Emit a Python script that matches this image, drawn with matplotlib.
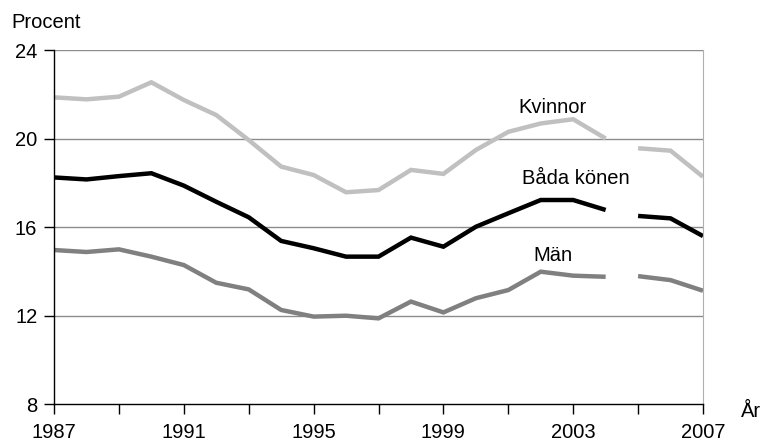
import numpy as np
import matplotlib
matplotlib.use("Agg")
import matplotlib.pyplot as plt

plt.rcParams['font.family'] = ['Liberation Sans', 'DejaVu Sans']

# andel i procent, 1987-2007 (ingen linje mellan 2004 och 2005)
years = list(range(1987, 2008))
kvinnor = [21.86, 21.77, 21.89, 22.54, 21.74, 21.06, 19.93, 18.73, 18.35, 17.57, 17.67,
           18.58, 18.40, 19.48, 20.30, 20.68, 20.87, 20.00, 19.56, 19.45, 18.27]
bada = [18.24, 18.15, 18.30, 18.43, 17.87, 17.14, 16.44, 15.37, 15.04, 14.66, 14.66,
        15.52, 15.11, 16.01, 16.62, 17.22, 17.22, 16.77, 16.50, 16.39, 15.59]
man = [14.96, 14.87, 14.99, 14.66, 14.28, 13.48, 13.18, 12.25, 11.95, 11.99, 11.87,
       12.63, 12.14, 12.78, 13.15, 13.98, 13.80, 13.75, 13.78, 13.60, 13.12]
split = years.index(2005)

yticks = [8, 12, 16, 20, 24]
xlabels = [1987, 1991, 1995, 1999, 2003, 2007]

fs = 14.5

fig = plt.figure(figsize=(7.64, 4.44), dpi=100)
ax = fig.add_axes([54/764, 1-404/444, (703-54)/764, (404-50)/444])

series = [(kvinnor, '#c0c0c0'), (bada, '#000000'), (man, '#808080')]
for vals, col in series:
    ax.plot(years[:split], vals[:split], color=col, lw=3.2, solid_capstyle='butt', solid_joinstyle='miter')
    ax.plot(years[split:], vals[split:], color=col, lw=3.2, solid_capstyle='butt', solid_joinstyle='miter')

ax.set_xlim(1987, 2007)
ax.set_ylim(8, 24)
ax.set_yticks(yticks)
ax.set_xticks(range(1987, 2008, 2))
ax.set_xticklabels([str(y) if y in xlabels else '' for y in range(1987, 2008, 2)])
for y in yticks[1:]:
    ax.axhline(y, color='#8c8c8c', lw=1, zorder=0)

ax.spines['top'].set_visible(False)
ax.spines['right'].set_color('#b0b0b0')
ax.spines['left'].set_linewidth(1)
ax.spines['bottom'].set_linewidth(1)
ax.tick_params(axis='both', direction='out', length=7, width=1, labelsize=fs)
ax.tick_params(axis='y', pad=5)
ax.tick_params(axis='x', pad=7)

ax.text(2002.36, 21.42, 'Kvinnor', ha='center', va='center', fontsize=fs)
ax.text(2003.07, 18.21, 'Båda könen', ha='center', va='center', fontsize=fs)
ax.text(2002.38, 14.73, 'Män', ha='center', va='center', fontsize=fs)

fig.text(11/764, 1-22/444, 'Procent', ha='left', va='center', fontsize=fs)
fig.text(741/764, 1-411/444, 'År', ha='left', va='center', fontsize=fs)

fig.savefig('out.png', dpi=100)
